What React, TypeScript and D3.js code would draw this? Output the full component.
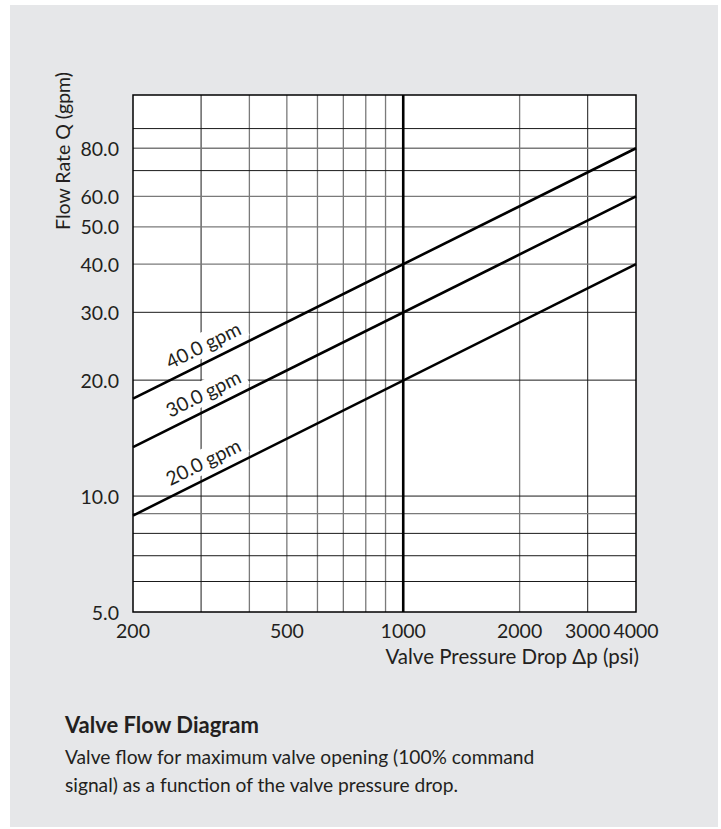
import * as d3 from 'd3';

// values
const xTicks = [200, 500, 1000, 2000, 3000, 4000];
const xGrid = [300, 400, 500, 600, 700, 800, 900, 2000, 3000];
const yTicks = [5, 10, 20, 30, 40, 50, 60, 80];
const yGrid = [6, 7, 8, 9, 10, 20, 30, 40, 50, 60, 70, 80, 90];
const ratedFlows = ['40.0 gpm', '30.0 gpm', '20.0 gpm'];
const flowAt200 = [17.9, 13.4, 8.9];
const flowAt4000 = [80, 60, 40];
const captionLines = [
  'Valve flow for maximum valve opening (100% command',
  'signal) as a function of the valve pressure drop.',
];

const W = 721;
const H = 829;
const PLOT = { left: 133, right: 636, top: 95, bottom: 612 };
const FONT = 'Lato, "Open Sans", sans-serif';
const INK = '#231f20';

const darkX = new Set([300, 3000]);
const darkY = new Set([6, 7, 8, 10, 20, 30, 70, 90]);

export default function App() {
  const x = d3.scaleLog().domain([200, 4000]).range([PLOT.left, PLOT.right]);
  const y = d3.scaleLog().domain([5, 110]).range([PLOT.bottom, PLOT.top]);

  const line = d3
    .line<[number, number]>()
    .x((d) => x(d[0]))
    .y((d) => y(d[1]));

  const series = ratedFlows.map((name, i) => ({
    name,
    pts: [
      [200, flowAt200[i]],
      [4000, flowAt4000[i]],
    ] as [number, number][],
  }));

  const labelX = x(300);

  return (
    <svg
      width={W}
      height={H}
      style={{ position: 'absolute', left: 0, top: 0, fontFamily: FONT }}
    >
      <rect x={0} y={0} width={W} height={H} fill="#fff" />
      <rect x={10} y={5} width={708} height={822} fill="#e6e7e9" />
      <rect
        x={PLOT.left}
        y={PLOT.top}
        width={PLOT.right - PLOT.left}
        height={PLOT.bottom - PLOT.top}
        fill="#fff"
      />

      {/* grid */}
      {xGrid.map((v) => (
        <line
          key={'x' + v}
          x1={x(v)}
          x2={x(v)}
          y1={PLOT.top}
          y2={PLOT.bottom}
          stroke={darkX.has(v) ? '#1a1a1a' : '#7a7a7a'}
          strokeWidth={darkX.has(v) ? 1 : 1.3}
        />
      ))}
      {yGrid.map((v) => (
        <line
          key={'y' + v}
          x1={PLOT.left}
          x2={PLOT.right}
          y1={y(v)}
          y2={y(v)}
          stroke={darkY.has(v) ? '#1a1a1a' : '#7a7a7a'}
          strokeWidth={darkY.has(v) ? 1 : 1.3}
        />
      ))}
      <line
        x1={x(1000)}
        x2={x(1000)}
        y1={PLOT.top}
        y2={PLOT.bottom}
        stroke="#000"
        strokeWidth={2.6}
      />

      {/* line labels with white backing */}
      {series.map((s) => {
        const x0 = x(s.pts[0][0]);
        const y0 = y(s.pts[0][1]);
        const x1 = x(s.pts[1][0]);
        const y1 = y(s.pts[1][1]);
        const slope = (y1 - y0) / (x1 - x0);
        const angle = (Math.atan(slope) * 180) / Math.PI;
        const ly = y0 + slope * (labelX - x0) - 20;
        return (
          <g key={s.name} transform={`translate(${labelX + 2},${ly}) rotate(${angle})`}>
            <rect x={-46} y={-12} width={92} height={24} fill="#fff" />
            <text
              textAnchor="middle"
              dominantBaseline="central"
              fontSize={19.5}
              fill={INK}
            >
              {s.name}
            </text>
          </g>
        );
      })}

      {/* flow lines */}
      {series.map((s) => (
        <path
          key={'l' + s.name}
          d={line(s.pts) ?? ''}
          fill="none"
          stroke="#000"
          strokeWidth={2.6}
        />
      ))}

      <rect
        x={PLOT.left}
        y={PLOT.top}
        width={PLOT.right - PLOT.left}
        height={PLOT.bottom - PLOT.top}
        fill="none"
        stroke="#000"
        strokeWidth={1.5}
      />

      {/* axes labels */}
      {yTicks.map((v) => (
        <text
          key={'yt' + v}
          x={119}
          y={y(v)}
          textAnchor="end"
          dominantBaseline="central"
          fontSize={19.5}
          fill={INK}
        >
          {v.toFixed(1)}
        </text>
      ))}
      {xTicks.map((v) => (
        <text
          key={'xt' + v}
          x={x(v)}
          y={638}
          textAnchor="middle"
          fontSize={19.5}
          fill={INK}
        >
          {v}
        </text>
      ))}
      <text x={639} y={664} textAnchor="end" fontSize={20.5} fill={INK}>
        Valve Pressure Drop Δp (psi)
      </text>
      <text
        transform="translate(62,151) rotate(-90)"
        textAnchor="middle"
        dominantBaseline="central"
        fontSize={19.5}
        fill={INK}
      >
        Flow Rate Q (gpm)
      </text>

      {/* caption */}
      <text x={65} y={733} fontSize={22} fontWeight="bold" fill={INK}>
        Valve Flow Diagram
      </text>
      {captionLines.map((t, i) => (
        <text key={i} x={65} y={764 + i * 28} fontSize={19.2} fill={INK}>
          {t}
        </text>
      ))}
    </svg>
  );
}
